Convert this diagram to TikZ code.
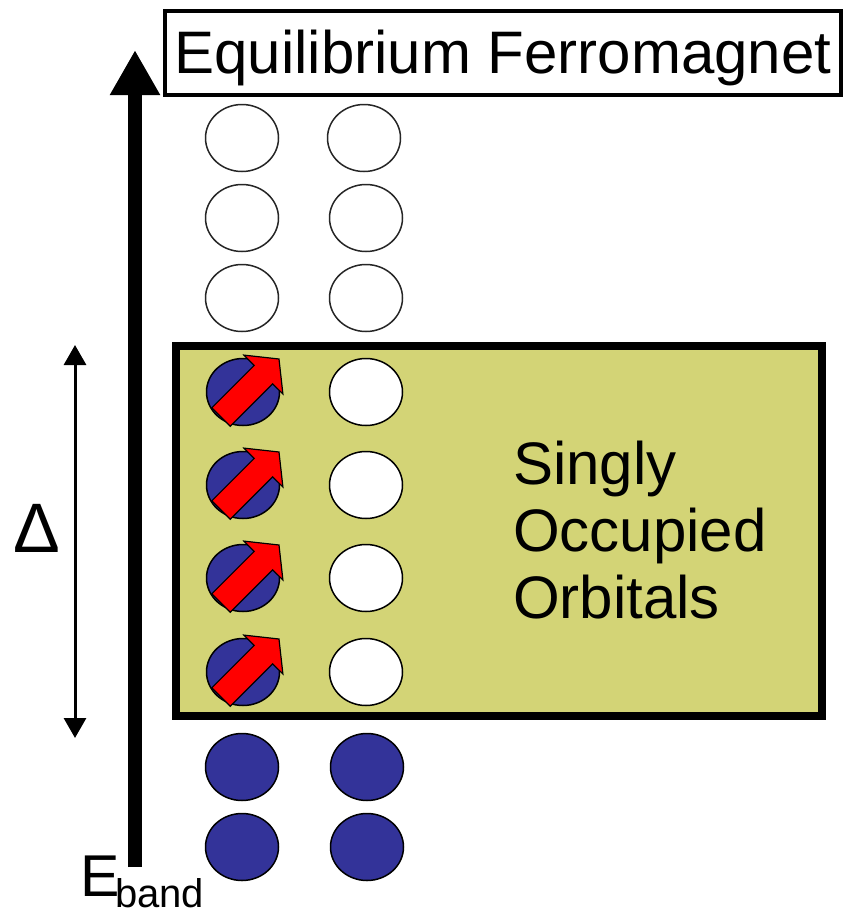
\documentclass[tikz,border=0pt]{standalone}
\usepackage{fontspec}
\setmainfont{Liberation Sans}
\usepackage{tikz}
\usetikzlibrary{arrows.meta,shapes.geometric}
\definecolor{bandbg}{HTML}{D3D476}
\definecolor{elec}{HTML}{333399}
\definecolor{spinred}{HTML}{FF0000}

\begin{document}
\begin{tikzpicture}[
  x=1pt,y=-1pt,
  orb/.style={ellipse,draw=black!85,line width=1.5pt,minimum width=73pt,
              minimum height=67pt,inner sep=0pt},
  emp/.style={orb,fill=white},
  full/.style={orb,fill=elec,draw=black},
  spin/.style={fill=spinred,draw=black,line width=1.2pt,line join=miter},
  axis/.style={line width=14pt,-{Triangle[length=45pt,width=47pt]}},
  gap/.style={line width=3pt,{Triangle[length=20pt,width=22pt]}-{Triangle[length=20pt,width=22pt]}},
  lab/.style={inner sep=0pt}
]
\useasboundingbox (0,0) rectangle (845,916);

% title and occupied window
\node[draw,line width=4pt,minimum width=676pt,minimum height=84pt,inner sep=0pt,
      text height=55pt,text depth=14pt,
      font=\fontsize{60}{70}\selectfont] (title) at (503,52.5) {Equilibrium Ferromagnet};
\node[draw,line width=8pt,fill=bandbg,minimum width=646pt,minimum height=370pt] (soo) at (499,531) {};
\node[lab,anchor=west,align=left,font=\fontsize{60}{67}\selectfont] (sootxt) at (513,530)
  {Singly\\Occupied\\Orbitals};

% energy axis and exchange gap
\coordinate (axbot) at (135,867);
\coordinate (axtop) at (135,50);
\draw[axis] (axbot) -- (axtop);
\coordinate (gtop) at (75,345);
\coordinate (gbot) at (75,738);
\draw[gap] (gtop) -- (gbot);
\node[lab,font=\fontsize{70}{70}\selectfont] (delta) at (37,528) {Δ};
\node[lab,anchor=base west,font=\fontsize{59}{59}\selectfont] (eE) at (80,896) {E};
\node[lab,anchor=base west,font=\fontsize{40}{40}\selectfont] (eband) at (115,907) {band};

% empty levels
\node[emp] (eA1) at (242,138) {};
\node[emp] (eB1) at (364,138) {};
\node[emp] (eA2) at (242,218) {};
\node[emp] (eB2) at (366,218) {};
\node[emp] (eA3) at (242,298) {};
\node[emp] (eB3) at (366,298) {};

% singly occupied levels
\node[full] (sA1) at (243,392) {};
\node[emp,draw=black] (sB1) at (366,392) {};
\node[full] (sA2) at (243,485) {};
\node[emp,draw=black] (sB2) at (366,485) {};
\node[full] (sA3) at (243,578) {};
\node[emp,draw=black] (sB3) at (366,578) {};
\node[full] (sA4) at (243,672) {};
\node[emp,draw=black] (sB4) at (366,672) {};
\foreach \s in {sA1,sA2,sA3,sA4}
  \draw[spin,shift={(\s.center)}] (-31.2,15.8) -- (11.2,-26.6) -- (0.95,-36.9) -- (36,-33)
    -- (39.9,2) -- (29.6,-8.2) -- (-12.8,34.2) -- cycle;

% filled levels
\node[full] (fA1) at (242,767) {};
\node[full] (fB1) at (367,767) {};
\node[full] (fA2) at (242,847) {};
\node[full] (fB2) at (367,847) {};
\end{tikzpicture}
\end{document}
